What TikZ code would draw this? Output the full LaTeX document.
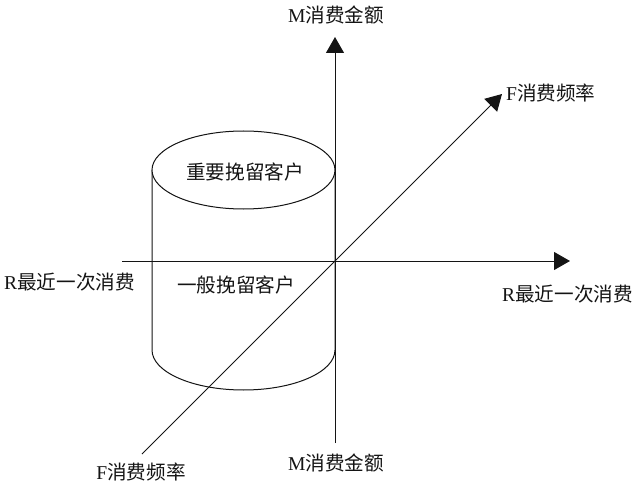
\documentclass[tikz,border=0pt]{standalone}
\usepackage{fontspec}
\setmainfont{Liberation Serif}
\newfontfamily\cjk{Noto Sans CJK SC}
\usetikzlibrary{
	positioning,
	arrows.meta
}
\definecolor{AxisBlack}{RGB}{20,20,20}
\newcommand{\zh}[1]{{\cjk #1}}

\begin{document}
\begin{tikzpicture}[
	x=1pt,
	y=-1pt,
	axisline/.style={AxisBlack, line width=1pt, -{Triangle[length=16pt,width=18pt]}},
	shapeline/.style={AxisBlack, line width=1pt},
	lbl/.style={inner sep=0pt, font=\fontsize{19.6}{23}\selectfont, text=AxisBlack}
	]
				\useasboundingbox (0,0) rectangle (640,484);
				
				% Axis end points
				\coordinate (origin) at (335,261);
				\coordinate (mtop) at (335,37);
				\coordinate (mbot) at (335,443);
				\coordinate (rleft) at (122,261);
				\coordinate (rright) at (570,261);
				\coordinate (fbot) at (142,454);
				\coordinate (ftop) at (502,94);
				
				% Cylinder
				\draw[
				shapeline
				]
				(152,170) -- (152,350)
				arc[start angle=180, end angle=0, x radius=91.5, y radius=40]
				-- (335,170);
				
				\draw[
				shapeline,
				fill=white
				]
				(243.5,170) ellipse (91.5 and 39);
				
				% Axes
				\draw[axisline] (mbot) -- (mtop);
				\draw[axisline] (rleft) -- (rright);
				\draw[axisline] (fbot) -- (ftop);
				
				% Labels
				\node[lbl] (mtoplbl) at (336,15) {M\zh{消费金额}};
				\node[lbl] (mbotlbl) at (336,463) {M\zh{消费金额}};
				\node[lbl, anchor=west] (ftoplbl) at (506,93) {F\zh{消费频率}};
				\node[lbl] (fbotlbl) at (141,472) {F\zh{消费频率}};
				\node[lbl, anchor=west] (rleftlbl) at (4,282) {R\zh{最近一次消费}};
				\node[lbl, anchor=west] (rrightlbl) at (502,294) {R\zh{最近一次消费}};
				
				% Segments
				\node[lbl] (keepimp) at (245,172) {\zh{重要挽留客户}};
				\node[lbl] (keepgen) at (236,285) {\zh{一般挽留客户}};
				
			\end{tikzpicture}
\end{document}
